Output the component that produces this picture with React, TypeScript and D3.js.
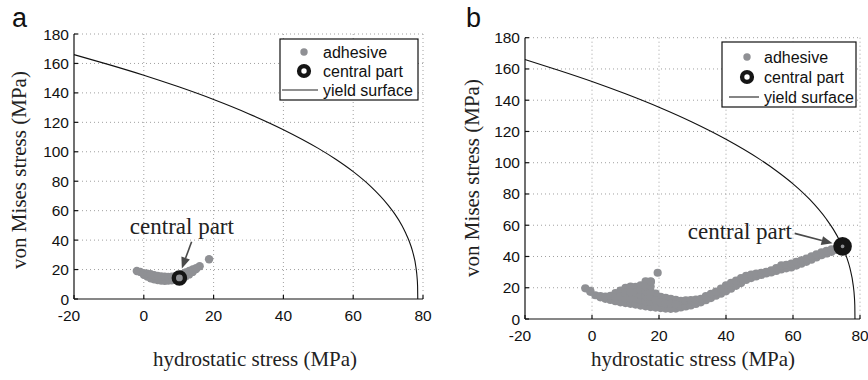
import React from 'react';
import * as d3 from 'd3';

// axis ticks shared by both panels
const xTicks = [-20, 0, 20, 40, 60, 80];
const yTicks = [0, 20, 40, 60, 80, 100, 120, 140, 160, 180];

// yield surface
const yieldP = [-20, -10, 0, 10, 20, 30, 40, 50, 55, 60, 65, 70, 72, 74, 75, 76, 77, 78, 78.3, 78.45, 78.5];
const yieldVm = [166, 159.2, 152, 144.1, 135.5, 125.9, 115, 102.3, 94.9, 86.5, 76.5, 63.8, 57.5, 49.8, 45, 39.6, 32.5, 21.2, 14.8, 8.6, 0];

// panel a: adhesive points (hydrostatic, von Mises)
const adhesiveA: [number, number][] = [
    [-2, 19.0], [-1, 18.4], [0, 16.5], [1, 15.2], [2, 14.1], [3, 13.4], [4, 12.9], [5, 12.5],
    [6, 12.4], [7, 12.5], [8, 12.7], [9, 13.2], [10, 13.9], [11, 14.6], [12, 15.5], [13, 16.7],
    [14, 18.4], [15, 20.3], [16, 22.3],
    [0, 17.5], [1, 17.2], [2, 16.8], [3, 16.2], [4, 15.7], [5, 15.3], [6, 15.1], [7, 15.0],
    [8, 15.1], [9, 15.5], [10, 16.1], [11, 16.9], [12, 18.0], [13, 19.1], [14, 20.1], [15, 21.0],
    [18.7, 27.0],
];
const centralA: [number, number] = [10.2, 14.3];

// panel b: adhesive points (hydrostatic, von Mises)
const adhesiveB: [number, number][] = [
    // lower edge
    [-2, 19.6], [-0.5, 17.4], [1, 15.2], [2.5, 13.9], [4, 12.9], [5.5, 12.2], [7, 11.4], [8.5, 10.7],
    [10, 10.2], [11.5, 9.7], [13, 9.2], [14.5, 8.6], [16, 8.1], [17.5, 7.6], [19, 7.3], [20.5, 7.0],
    [22, 6.7], [23.5, 6.5], [25, 6.7], [26.5, 7.4], [28, 8.0], [29.5, 8.7], [31, 9.6], [32.5, 10.7],
    [34, 12.0], [35.5, 13.4], [37, 14.9], [38.5, 16.2], [40, 17.7], [41.5, 19.4], [43, 21.2], [44.5, 23.0],
    [46, 25.0], [47.5, 26.2], [49, 27.2], [50.5, 28.2], [52, 29.1], [53.5, 29.8], [55, 30.7], [56.5, 31.7],
    [58, 32.4], [59.5, 33.0], [61, 34.2], [62.5, 35.4], [64, 36.6], [65.5, 37.9], [67, 39.4], [68.5, 40.8],
    [70, 41.9], [71.5, 43.0], [73, 44.2], [74.5, 45.4],
    // upper edge
    [-0.5, 18.0], [2.5, 14.6], [4, 14.4], [5.5, 14.8], [7, 16.6], [8.5, 18.1], [10, 19.9], [11.5, 20.8],
    [13, 20.6], [14.5, 21.6], [16, 24.1], [17.5, 24.1], [19, 16.2], [20.5, 14.1], [22, 13.6], [23.5, 12.9],
    [25, 12.2], [26.5, 11.6], [28, 11.9], [29.5, 12.1], [31, 12.4], [32.5, 12.9], [34, 14.6], [35.5, 16.1],
    [37, 17.6], [38.5, 19.4], [40, 21.6], [41.5, 23.1], [43, 24.6], [44.5, 26.1], [46, 27.6], [47.5, 28.4],
    [49, 29.1], [50.5, 29.6], [52, 30.1], [53.5, 31.2], [55, 32.6], [56.5, 34.3], [58, 34.6], [59.5, 35.4],
    [61, 36.6], [62.5, 37.6], [64, 38.6], [65.5, 40.1], [67, 41.4], [68.5, 42.6], [70, 43.6], [71.5, 44.6],
    [73, 45.4], [74.5, 46.1],
    // inner part of the thick left region
    [7, 14.0], [8.5, 14.4], [10, 13.4], [10, 16.7], [11.5, 13.4], [11.5, 17.1], [13, 13.0], [13, 16.8],
    [14.5, 12.0], [14.5, 15.3], [14.5, 18.5], [16, 11.3], [16, 14.5], [16, 17.7], [16, 20.9],
    [17.5, 10.9], [17.5, 14.2], [17.5, 17.5], [17.5, 20.8], [17.6, 23.8],
    [19, 11.7], [20.5, 10.5], [22, 10.1], [23.5, 9.7], [25, 9.4],
    [19.6, 29.6],
];
const centralB: [number, number] = [74.8, 46.5];

const GREY = '#8f9094';
const SANS = "'Liberation Sans', Arial, sans-serif";
const SERIF = "'Liberation Serif', 'Times New Roman', serif";

interface IPanel {
    letter: string;
    left: number; right: number; top: number; bottom: number;
    adhesive: [number, number][];
    dot: number;
    central: [number, number];
    ring: { r: number; w: number };
    label: [number, number];
    arrowFrom: [number, number];
    arrowTo: [number, number];
    legend: { x: number; y: number; w: number; h: number; mx: number; tx: number; rows: number[]; lx0: number; lx1: number };
    letterPos: [number, number];
    yTitle: [number, number];
    xTitle: [number, number];
}

function Panel(p: IPanel) {
    const x = d3.scaleLinear().domain([-20, 80]).range([p.left, p.right]);
    const y = d3.scaleLinear().domain([0, 180]).range([p.bottom, p.top]);
    const line = d3.line<number>()
        .x((_, i) => x(yieldP[i]))
        .y(d => y(d))
        .curve(d3.curveMonotoneX);

    const [ax, ay] = [x(p.arrowFrom[0]), y(p.arrowFrom[1])];
    const [bx, by] = [x(p.arrowTo[0]), y(p.arrowTo[1])];
    const ang = Math.atan2(by - ay, bx - ax);
    const hl = 11, hw = 4.5;
    const baseX = bx - hl * Math.cos(ang), baseY = by - hl * Math.sin(ang);
    const head = [
        [bx, by],
        [baseX + hw * Math.sin(ang), baseY - hw * Math.cos(ang)],
        [baseX - hw * Math.sin(ang), baseY + hw * Math.cos(ang)],
    ].map(d => d.join(',')).join(' ');

    const lg = p.legend;
    return (
        <g>
            {/* grid */}
            <g stroke="#a0a0a0" strokeDasharray="1 3" strokeWidth={1}>
                {xTicks.slice(1).map(t => (
                    <line key={'gx' + t} x1={x(t)} x2={x(t)} y1={p.top} y2={p.bottom} />
                ))}
                {yTicks.slice(1).map(t => (
                    <line key={'gy' + t} x1={p.left} x2={p.right} y1={y(t)} y2={y(t)} />
                ))}
            </g>
            {/* axes */}
            <g stroke="#111" strokeWidth={1.2}>
                <line x1={p.left} x2={p.left} y1={p.top} y2={p.bottom} />
                <line x1={p.left} x2={p.right} y1={p.bottom} y2={p.bottom} />
                {xTicks.map(t => (
                    <line key={'tx' + t} x1={x(t)} x2={x(t)} y1={p.bottom} y2={p.bottom - 4} />
                ))}
                {yTicks.map(t => (
                    <line key={'ty' + t} x1={p.left} x2={p.left + 4} y1={y(t)} y2={y(t)} />
                ))}
            </g>
            <g fontFamily={SANS} fontSize={15.5} fill="#111">
                {yTicks.map(t => (
                    <text key={'ly' + t} x={p.left - 5} y={y(t)} textAnchor="end" dominantBaseline="central">{t}</text>
                ))}
                {xTicks.map(t => (
                    <text key={'lx' + t} x={x(t) + (t < 0 ? -5 : 0)} y={p.bottom + 16} textAnchor="middle" dominantBaseline="central">{t}</text>
                ))}
            </g>
            {/* yield surface */}
            <path d={line(yieldVm) || ''} fill="none" stroke="#111" strokeWidth={1.1} />
            {/* adhesive */}
            <g fill={GREY}>
                {p.adhesive.map((d, i) => (
                    <circle key={i} cx={x(d[0])} cy={y(d[1])} r={p.dot} />
                ))}
            </g>
            <circle cx={x(p.central[0])} cy={y(p.central[1])} r={p.ring.r} fill="none" stroke="#151515" strokeWidth={p.ring.w} />
            {/* annotation */}
            <text x={x(p.label[0])} y={y(p.label[1])} fontFamily={SERIF} fontSize={23} fill="#222">central part</text>
            <line x1={ax} y1={ay} x2={baseX} y2={baseY} stroke="#4a4a4a" strokeWidth={1.6} />
            <polygon points={head} fill="#4a4a4a" />
            {/* legend */}
            <rect x={lg.x} y={lg.y} width={lg.w} height={lg.h} fill="#fff" stroke="#111" strokeWidth={1.2} />
            <circle cx={lg.mx} cy={lg.rows[0]} r={3.7} fill={GREY} />
            <circle cx={lg.mx} cy={lg.rows[1]} r={4.9} fill="none" stroke="#151515" strokeWidth={4.4} />
            <line x1={lg.lx0} x2={lg.lx1} y1={lg.rows[2]} y2={lg.rows[2]} stroke="#222" strokeWidth={1.1} />
            <g fontFamily={SANS} fontSize={16} fill="#111">
                <text x={lg.tx} y={lg.rows[0]} dominantBaseline="central">adhesive</text>
                <text x={lg.tx} y={lg.rows[1]} dominantBaseline="central">central part</text>
                <text x={lg.tx} y={lg.rows[2]} dominantBaseline="central">yield surface</text>
            </g>
            {/* titles */}
            <text x={p.letterPos[0]} y={p.letterPos[1]} fontFamily={SANS} fontSize={27} fill="#111">{p.letter}</text>
            <text transform={`translate(${p.yTitle[0]},${p.yTitle[1]}) rotate(-90)`} textAnchor="middle"
                fontFamily={SERIF} fontSize={21} fill="#222">von Mises stress (MPa)</text>
            <text x={p.xTitle[0]} y={p.xTitle[1]} textAnchor="middle" fontFamily={SERIF} fontSize={21} fill="#222">hydrostatic stress (MPa)</text>
        </g>
    );
}

export default function App() {
    return (
        <svg width={868} height={380} style={{ position: 'absolute', left: 0, top: 0, background: '#fff' }}>
            <Panel
                letter="a" left={74} right={423} top={34} bottom={299}
                adhesive={adhesiveA} dot={4.2} central={centralA} ring={{ r: 5.6, w: 4.4 }}
                label={[-4, 44.2]} arrowFrom={[13.7, 38.9]} arrowTo={[10.9, 20.8]}
                legend={{ x: 280, y: 39, w: 138, h: 61, mx: 304, tx: 323, rows: [52, 71, 90], lx0: 282, lx1: 318 }}
                letterPos={[12, 27]} yTitle={[26, 170]} xTitle={[255, 366]}
            />
            <Panel
                letter="b" left={525} right={860} top={37.7} bottom={319}
                adhesive={adhesiveB} dot={4.1} central={centralB} ring={{ r: 5.6, w: 7.4 }}
                label={[28.6, 51.2]} arrowFrom={[60.5, 54.8]} arrowTo={[71.8, 48.4]}
                legend={{ x: 722, y: 42, w: 134, h: 65, mx: 747, tx: 764, rows: [57, 77, 97], lx0: 729, lx1: 759 }}
                letterPos={[466, 27]} yTitle={[479, 178]} xTitle={[693, 366]}
            />
        </svg>
    );
}
